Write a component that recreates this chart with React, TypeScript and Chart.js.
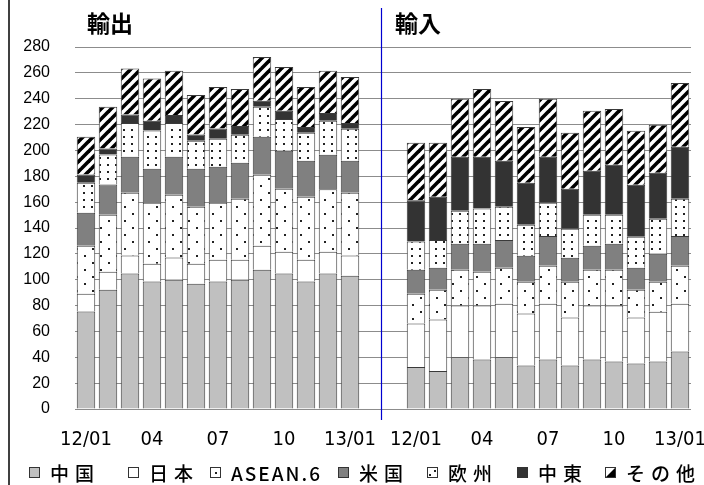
import React, { useEffect, useRef } from "react";
import { Chart, registerables } from "chart.js";

Chart.register(...registerables);

// ---- data ----
const seriesNames = ["中国", "日本", "ASEAN.6", "米国", "欧州", "中東", "その他"];
const monthLabels = ["12/01", "", "", "04", "", "", "07", "", "", "10", "", "", "13/01"];
const groupTitles = ["輸出", "輸入"];
const yTicks = { min: 0, max: 280, step: 20 };

// exports (輸出)
const exportChina = [75.5, 92.3, 104.9, 98.7, 100, 96.9, 98.7, 100, 107.7, 104.9, 98.7, 104.9, 103.1];
const exportJapan = [13.7, 13.9, 13.9, 13.6, 17.2, 15.4, 16.7, 15.4, 18.5, 16.7, 16.7, 16.7, 15.7];
const exportAsean = [37, 44.1, 48.5, 47.3, 48.5, 44.2, 44.2, 47.3, 55, 48.8, 48.8, 48.3, 48.5];
const exportUS = [25.6, 23.4, 27.8, 26.2, 29.4, 29.3, 27.8, 27.8, 29.3, 29.3, 27.8, 26.7, 24.7];
const exportEU = [23.2, 23.2, 26.2, 29.6, 26.2, 21.6, 21.6, 21.6, 23.2, 24.7, 21.6, 26.3, 24.7];
const exportME = [6.4, 4.6, 6.5, 7.5, 6.2, 4.9, 8, 6.7, 4.7, 6.2, 4.6, 6.1, 4.6];
const exportOther = [29.1, 32.2, 35.5, 32.7, 34.2, 30.6, 32.1, 28.8, 33.9, 34, 30.9, 32.7, 35.5];

// imports (輸入)
const importChina = [32.4, 29.3, 40.1, 38.3, 40.1, 33.7, 38.3, 33.7, 38.3, 36.8, 35.2, 36.8, 44.5];
const importJapan = [33.7, 39.9, 39.9, 41.7, 41.4, 40.1, 43.2, 37, 41.7, 43.2, 35.5, 38.5, 37];
const importAsean = [23.1, 23.1, 27.7, 26.2, 27.8, 24.7, 29.3, 27.8, 27.7, 27.7, 21.6, 23.2, 29.3];
const importUS = [18.5, 17, 20.1, 21.6, 21.5, 20, 23.1, 18.5, 18.5, 20.1, 17, 21.5, 23.1];
const importEU = [21.8, 21.5, 25.6, 27.2, 25.7, 24.1, 25.7, 22.5, 24.1, 22.5, 24, 27.2, 28.8];
const importME = [31.9, 33.4, 41.7, 40.1, 35.5, 32.4, 35.5, 30.9, 34, 38.6, 40.2, 35.5, 40.1];
const importOther = [44.5, 41.7, 44.8, 52.5, 46.3, 43.2, 44.8, 43.2, 46.3, 43.2, 41.7, 37.1, 49.4];

const exportSeries = [exportChina, exportJapan, exportAsean, exportUS, exportEU, exportME, exportOther];
const importSeries = [importChina, importJapan, importAsean, importUS, importEU, importME, importOther];

// ---- patterns ----
function tile(w: number, h: number, draw: (c: CanvasRenderingContext2D) => void) {
  const cv = document.createElement("canvas");
  cv.width = w;
  cv.height = h;
  const c = cv.getContext("2d")!;
  c.fillStyle = "#ffffff";
  c.fillRect(0, 0, w, h);
  draw(c);
  return cv;
}

function makeFills(ctx: CanvasRenderingContext2D) {
  const asean = tile(16, 14, (c) => {
    c.fillStyle = "#222";
    c.fillRect(4, 3, 2, 2);
    c.fillRect(12, 10, 2, 2);
  });
  const eu = tile(8, 7, (c) => {
    c.fillStyle = "#222";
    c.fillRect(3, 3, 2, 2);
  });
  const stripes = tile(10, 10, (c) => {
    c.strokeStyle = "#000";
    c.lineWidth = 3.6;
    for (const off of [-10, 0, 10]) {
      c.beginPath();
      c.moveTo(off - 1, 11);
      c.lineTo(off + 11, -1);
      c.stroke();
    }
  });
  return [
    "#c0c0c0",
    "#ffffff",
    ctx.createPattern(asean, "repeat")!,
    "#808080",
    ctx.createPattern(eu, "repeat")!,
    "#333333",
    ctx.createPattern(stripes, "repeat")!,
  ];
}

// ---- decoration plugin: titles, divider, left rule, legend ----
const legendX = [29, 128, 210, 338, 427, 517, 605];

const decorPlugin = {
  id: "decor",
  afterDraw(chart: any) {
    const { ctx, scales } = chart;
    const x = scales.x;
    ctx.save();
    // left rule
    ctx.strokeStyle = "#000";
    ctx.lineWidth = 1.5;
    ctx.beginPath();
    ctx.moveTo(9, 0);
    ctx.lineTo(9, chart.height);
    ctx.stroke();
    // divider between groups
    const dx = Math.round((x.getPixelForValue(13) + x.getPixelForValue(14)) / 2) - 1.5;
    ctx.strokeStyle = "#0000d0";
    ctx.lineWidth = 1.2;
    ctx.beginPath();
    ctx.moveTo(dx, 8);
    ctx.lineTo(dx, 420);
    ctx.stroke();
    // group titles
    ctx.fillStyle = "#000";
    ctx.font = 'bold 23px "Noto Sans CJK JP", sans-serif';
    ctx.textAlign = "left";
    ctx.textBaseline = "middle";
    ctx.fillText(groupTitles[0], x.getPixelForValue(0) + 1, 23);
    ctx.fillText(groupTitles[1], x.getPixelForValue(14) + 1, 23);
    // legend
    const by = 467;
    const bs = 11;
    chart.data.datasets.forEach((ds: any, i: number) => {
      const lx = legendX[i];
      ctx.fillStyle = "#fff";
      ctx.fillRect(lx, by, bs, bs);
      if (i === 0) { ctx.fillStyle = "#c0c0c0"; ctx.fillRect(lx, by, bs, bs); }
      if (i === 3) { ctx.fillStyle = "#808080"; ctx.fillRect(lx, by, bs, bs); }
      if (i === 5) { ctx.fillStyle = "#333333"; ctx.fillRect(lx, by, bs, bs); }
      if (i === 2) { ctx.fillStyle = "#222"; ctx.fillRect(lx + 5, by + 5, 2, 2); }
      if (i === 4) {
        ctx.fillStyle = "#222";
        ctx.fillRect(lx + 7, by + 3, 2, 2);
        ctx.fillRect(lx + 2, by + 7, 2, 2);
      }
      if (i === 6) {
        ctx.fillStyle = "#000";
        ctx.beginPath();
        ctx.moveTo(lx + bs, by);
        ctx.lineTo(lx + bs, by + bs);
        ctx.lineTo(lx, by + bs);
        ctx.closePath();
        ctx.fill();
      }
      ctx.strokeStyle = "#333";
      ctx.lineWidth = 1;
      ctx.strokeRect(lx + 0.5, by + 0.5, bs - 1, bs - 1);
      ctx.fillStyle = "#000";
      ctx.font = '500 19px "Noto Sans CJK JP", sans-serif';
      (ctx as any).letterSpacing = i === 2 ? "2px" : "6px";
      ctx.textBaseline = "middle";
      ctx.fillText(ds.label, lx + bs + 10, by + bs / 2 + 1);
      (ctx as any).letterSpacing = "0px";
    });
    ctx.restore();
  },
};

export default function App() {
  const canvasRef = useRef<HTMLCanvasElement | null>(null);

  useEffect(() => {
    document.body.style.margin = "0";
    const canvas = canvasRef.current!;
    const ctx = canvas.getContext("2d")!;
    const fills = makeFills(ctx);
    const labels = [...monthLabels, "", "", ...monthLabels];
    const datasets = seriesNames.map((name, i) => ({
      label: name,
      data: [...exportSeries[i], null, null, ...importSeries[i]],
      backgroundColor: fills[i],
      borderColor: "#3a3a3a",
      borderWidth: 1,
      categoryPercentage: 0.84,
      barPercentage: 1,
    }));

    const chart = new Chart(ctx, {
      type: "bar",
      data: { labels, datasets: datasets as any },
      plugins: [decorPlugin],
      options: {
        animation: false,
        responsive: false,
        maintainAspectRatio: false,
        layout: { padding: { left: 20, right: 13, top: 47, bottom: 0 } },
        plugins: {
          legend: { display: false },
          tooltip: { enabled: false },
          title: { display: false },
        },
        scales: {
          x: {
            stacked: true,
            grid: { display: false, drawTicks: false },
            border: { display: false },
            ticks: {
              autoSkip: false,
              maxRotation: 0,
              minRotation: 0,
              padding: 19,
              color: "#000",
              font: { family: '"Liberation Sans Narrow", "DejaVu Sans Condensed", "Liberation Sans", sans-serif', size: 20 },
            },
            afterFit(s: any) {
              s.height = 76;
              s.paddingLeft = 0;
              s.paddingRight = 0;
            },
          },
          y: {
            stacked: true,
            min: yTicks.min,
            max: yTicks.max,
            ticks: {
              stepSize: yTicks.step,
              padding: 25,
              color: "#000",
              font: { family: '"Liberation Sans", Arial, sans-serif', size: 16 },
            },
            grid: { color: "#8c8c8c", lineWidth: 1, drawTicks: false },
            border: { display: false },
            afterFit(s: any) {
              s.width = 55;
              s.paddingTop = 0;
              s.paddingBottom = 0;
            },
          },
        },
      },
    });
    return () => chart.destroy();
  }, []);

  return (
    <div style={{ width: 704, height: 485, position: "relative", background: "#fff" }}>
      <canvas ref={canvasRef} width={704} height={485} style={{ display: "block", width: 704, height: 485 }} />
    </div>
  );
}
